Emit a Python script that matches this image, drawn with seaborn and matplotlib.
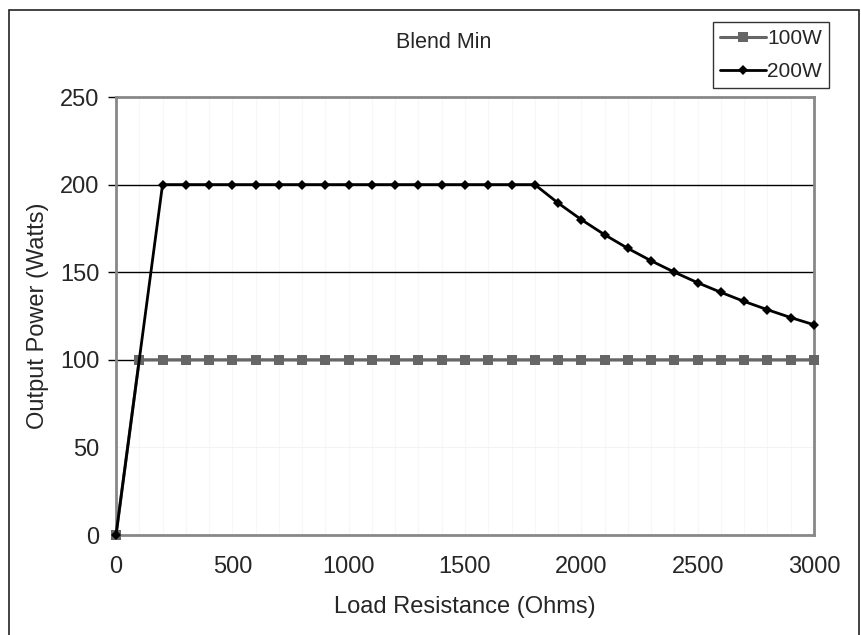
# Blend Min: output power vs load resistance, Excel-style line chart

import matplotlib
matplotlib.use("Agg")
import matplotlib.pyplot as plt
import pandas as pd
import seaborn as sns
from matplotlib.patches import Rectangle


# --- Data --------------------------------------------------------------------
load_100w = [0, 100, 200, 300, 400, 500, 600, 700, 800, 900, 1000, 1100, 1200,
             1300, 1400, 1500, 1600, 1700, 1800, 1900, 2000, 2100, 2200, 2300,
             2400, 2500, 2600, 2700, 2800, 2900, 3000]
power_100w = [0] + [100] * 30

load_200w = [0, 200, 300, 400, 500, 600, 700, 800, 900, 1000, 1100, 1200,
             1300, 1400, 1500, 1600, 1700, 1800, 1900, 2000, 2100, 2200, 2300,
             2400, 2500, 2600, 2700, 2800, 2900, 3000]
power_200w = [0, 200, 200, 200, 200, 200, 200, 200, 200, 200, 200, 200,
              200, 200, 200, 200, 200, 200, 189.5, 180, 171.4, 163.6, 156.5,
              150, 144, 138.5, 133.3, 128.6, 124.1, 120]

x_ticks = [0, 500, 1000, 1500, 2000, 2500, 3000]
y_ticks = [0, 50, 100, 150, 200, 250]

df_100 = pd.DataFrame({"load": load_100w, "power": power_100w})
df_200 = pd.DataFrame({"load": load_200w, "power": power_200w})


# --- Style -------------------------------------------------------------------
sns.set_style("white")
plt.rcParams["font.family"] = ["Liberation Sans", "DejaVu Sans"]

fig = plt.figure(figsize=(8.61, 6.35), dpi=100)
ax = fig.add_axes([116 / 861, 1 - 535 / 635, 698 / 861, 438 / 635])

# outer chart border
fig.patches.append(Rectangle((9 / 861, -0.05), 850 / 861, 1 - 10 / 635 + 0.05,
                             transform=fig.transFigure, fill=False,
                             edgecolor="#222222", linewidth=1.2))

# faint vertical gridlines and faint 50 line, black major gridlines
for xv in range(100, 3000, 100):
    ax.axvline(xv, color="#f7f7f7", linewidth=0.8, zorder=0)
ax.axhline(50, color="#f3f3f3", linewidth=0.8, zorder=0)
for yv in [100, 150, 200]:
    ax.axhline(yv, color="black", linewidth=1.0, zorder=1)


# --- Plot --------------------------------------------------------------------
sns.lineplot(data=df_100, x="load", y="power", ax=ax, color="#666666",
             linewidth=2.2, marker="s", markersize=7, markeredgewidth=0,
             label="100W", zorder=3)
sns.lineplot(data=df_200, x="load", y="power", ax=ax, color="black",
             linewidth=2.0, marker="D", markersize=5, markeredgewidth=0,
             label="200W", zorder=4)

ax.set_xlim(0, 3000)
ax.set_ylim(0, 250)
ax.set_xticks(x_ticks)
ax.set_yticks(y_ticks)
ax.tick_params(axis="x", length=0, pad=15, labelsize=17)
ax.tick_params(axis="y", length=6, width=1, color="black", direction="out",
               pad=6, labelsize=17, left=True)
# Excel shows no tick marks at 0 and 50
for tick in ax.yaxis.get_major_ticks()[:2]:
    tick.tick1line.set_visible(False)
ax.set_xlabel("Load Resistance (Ohms)", fontsize=17, labelpad=13)
ax.set_ylabel("Output Power (Watts)", fontsize=17, labelpad=8)

for spine in ax.spines.values():
    spine.set_visible(True)
    spine.set_color("#888888")
    spine.set_linewidth(2)
for line in ax.lines:
    line.set_clip_on(False)

fig.text(444 / 861, 1 - 42 / 635, "Blend Min", ha="center", va="center",
         fontsize=15.5)

leg = ax.legend(loc="upper left", bbox_to_anchor=(713 / 861, 1 - 22 / 635),
                bbox_transform=fig.transFigure, frameon=True, fancybox=False,
                fontsize=15, handlelength=2.2, handletextpad=0.05,
                borderpad=0.35, labelspacing=0.65, borderaxespad=0)
leg.get_frame().set_edgecolor("black")
leg.get_frame().set_linewidth(1)

fig.savefig("out.png", dpi=100)
plt.close(fig)
